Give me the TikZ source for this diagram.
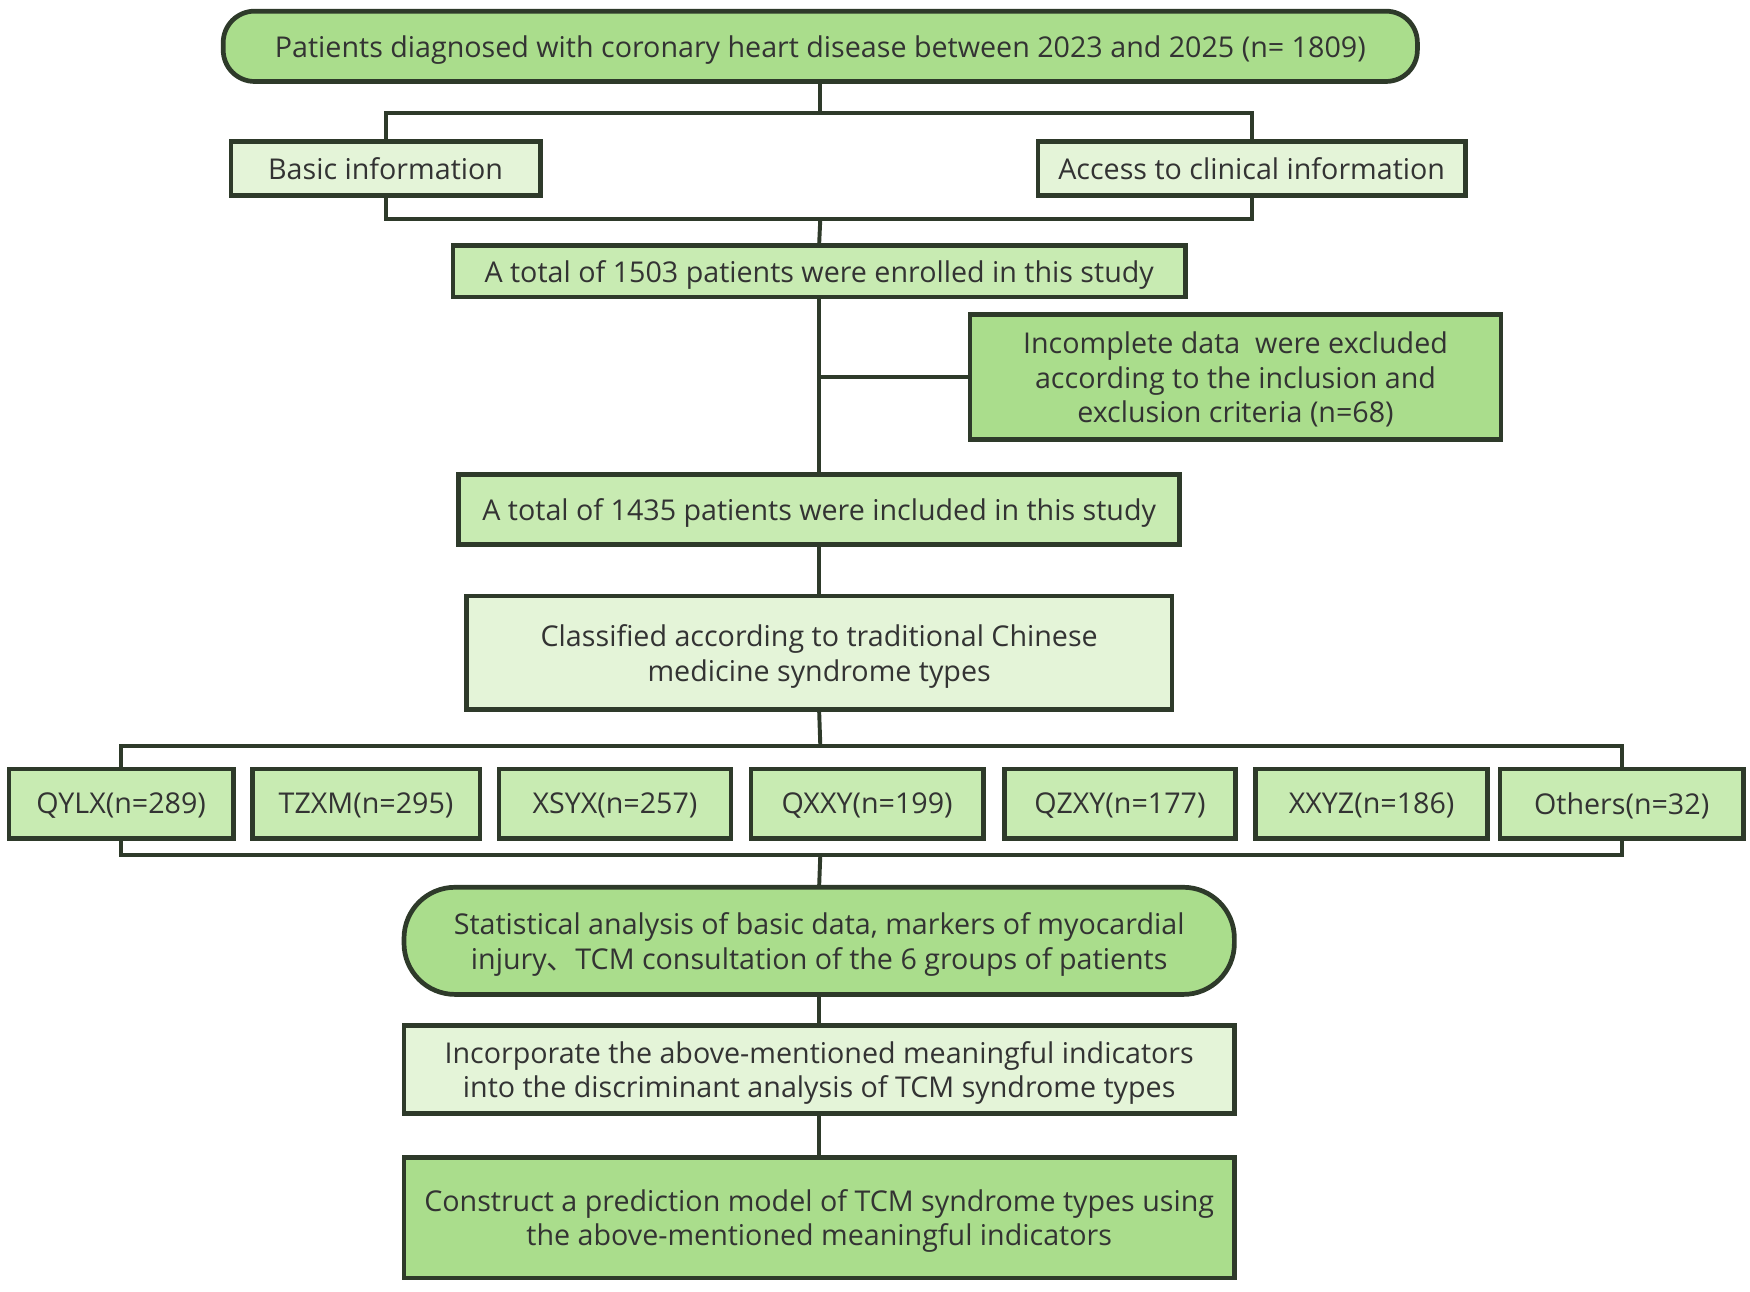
\documentclass[tikz,border=0pt]{standalone}
\usepackage{fontspec}
\setmainfont{Open Sans}
\newfontfamily\cjk{Noto Sans CJK SC}
\definecolor{dk}{HTML}{AADD8C}
\definecolor{md}{HTML}{C8EBB2}
\definecolor{lt}{HTML}{E4F4D8}
\definecolor{ln}{HTML}{2E3A2A}
\begin{document}
\begin{tikzpicture}[x=0.01cm,y=-0.01cm,
 bx/.style={draw=ln,line width=1.2pt,font=\fontsize{7.3}{8.8}\selectfont\color{black!80},align=center,inner sep=0pt,text depth=0pt},
 ln/.style={draw=ln,line width=1pt}]
\useasboundingbox (0,0) rectangle (1568,1157);
\newcommand{\bxat}[6]{\node[bx,fill=#5,minimum width=(#2-#1)*0.01cm,minimum height=(#4-#3)*0.01cm,#6] at ({(#1+#2)/2},{(#3+#4)/2})}
\bxat{200}{1270}{10}{73}{dk}{rounded corners=8pt} (top) {Patients diagnosed with coronary heart disease between 2023 and 2025 (n= 1809)};
\bxat{207}{484}{127}{175}{lt}{} (basic) {Basic information};
\bxat{930}{1313}{127}{175}{lt}{} (access) {Access to clinical information};
\bxat{406}{1062}{220}{266}{md}{} (enr) {A total of 1503 patients were enrolled in this study};
\bxat{869}{1345}{282}{394}{dk}{} (exc) {Incomplete data\ \ were excluded\\according to the inclusion and\\exclusion criteria\ (n=68)};
\bxat{411}{1057}{425}{488}{md}{} (inc) {A total of 1435 patients were included in this study};
\bxat{418}{1050}{534}{636}{lt}{} (cls) {Classified according to traditional Chinese\\medicine syndrome types};
\bxat{8}{209}{689}{751}{md}{} (g1) {QYLX(n=289)};
\bxat{226}{430}{689}{751}{md}{} (g2) {TZXM(n=295)};
\bxat{447}{655}{689}{751}{md}{} (g3) {XSYX(n=257)};
\bxat{673}{881}{689}{751}{md}{} (g4) {QXXY(n=199)};
\bxat{900}{1107}{689}{751}{md}{} (g5) {QZXY(n=177)};
\bxat{1125}{1333}{689}{751}{md}{} (g6) {XXYZ(n=186)};
\bxat{1344}{1562}{689}{751}{md}{} (g7) {Others(n=32)};
\bxat{362}{1106}{795}{891}{dk}{rounded corners=13pt} (stat) {Statistical analysis of basic data, markers of myocardial\\injury{\cjk 、}TCM consultation of the 6 groups of patients};
\bxat{362}{1106}{919}{998}{lt}{} (incorp) {Incorporate the above-mentioned meaningful indicators\\into the discriminant analysis of TCM syndrome types};
\bxat{362}{1106}{1037}{1145}{dk}{} (con) {Construct a prediction model of TCM syndrome types using\\the above-mentioned meaningful indicators};
% connectors
\coordinate (a1) at (735,101); \coordinate (a2) at (735,196);
\draw[ln] (top.south) -- (a1);
\draw[ln] (basic.north) |- (a1) -| (access.north);
\draw[ln] (basic.south) |- (a2) -| (access.south);
\draw[ln] (a2) -- (enr.north);
\draw[ln] (enr.south) -- (inc.north);
\coordinate (b1) at (735,338);
\draw[ln] (b1) -- (exc.west);
\draw[ln] (inc.south) -- (cls.north);
\coordinate (c1) at (735,668); \coordinate (c2) at (735,766);
\draw[ln] (cls.south) -- (c1);
\draw[ln] (g1.north) |- (c1) -| (g7.north);
\draw[ln] (g1.south) |- (c2) -| (g7.south);
\draw[ln] (c2) -- (stat.north);
\draw[ln] (stat.south) -- (incorp.north);
\draw[ln] (incorp.south) -- (con.north);
\end{tikzpicture}
\end{document}
